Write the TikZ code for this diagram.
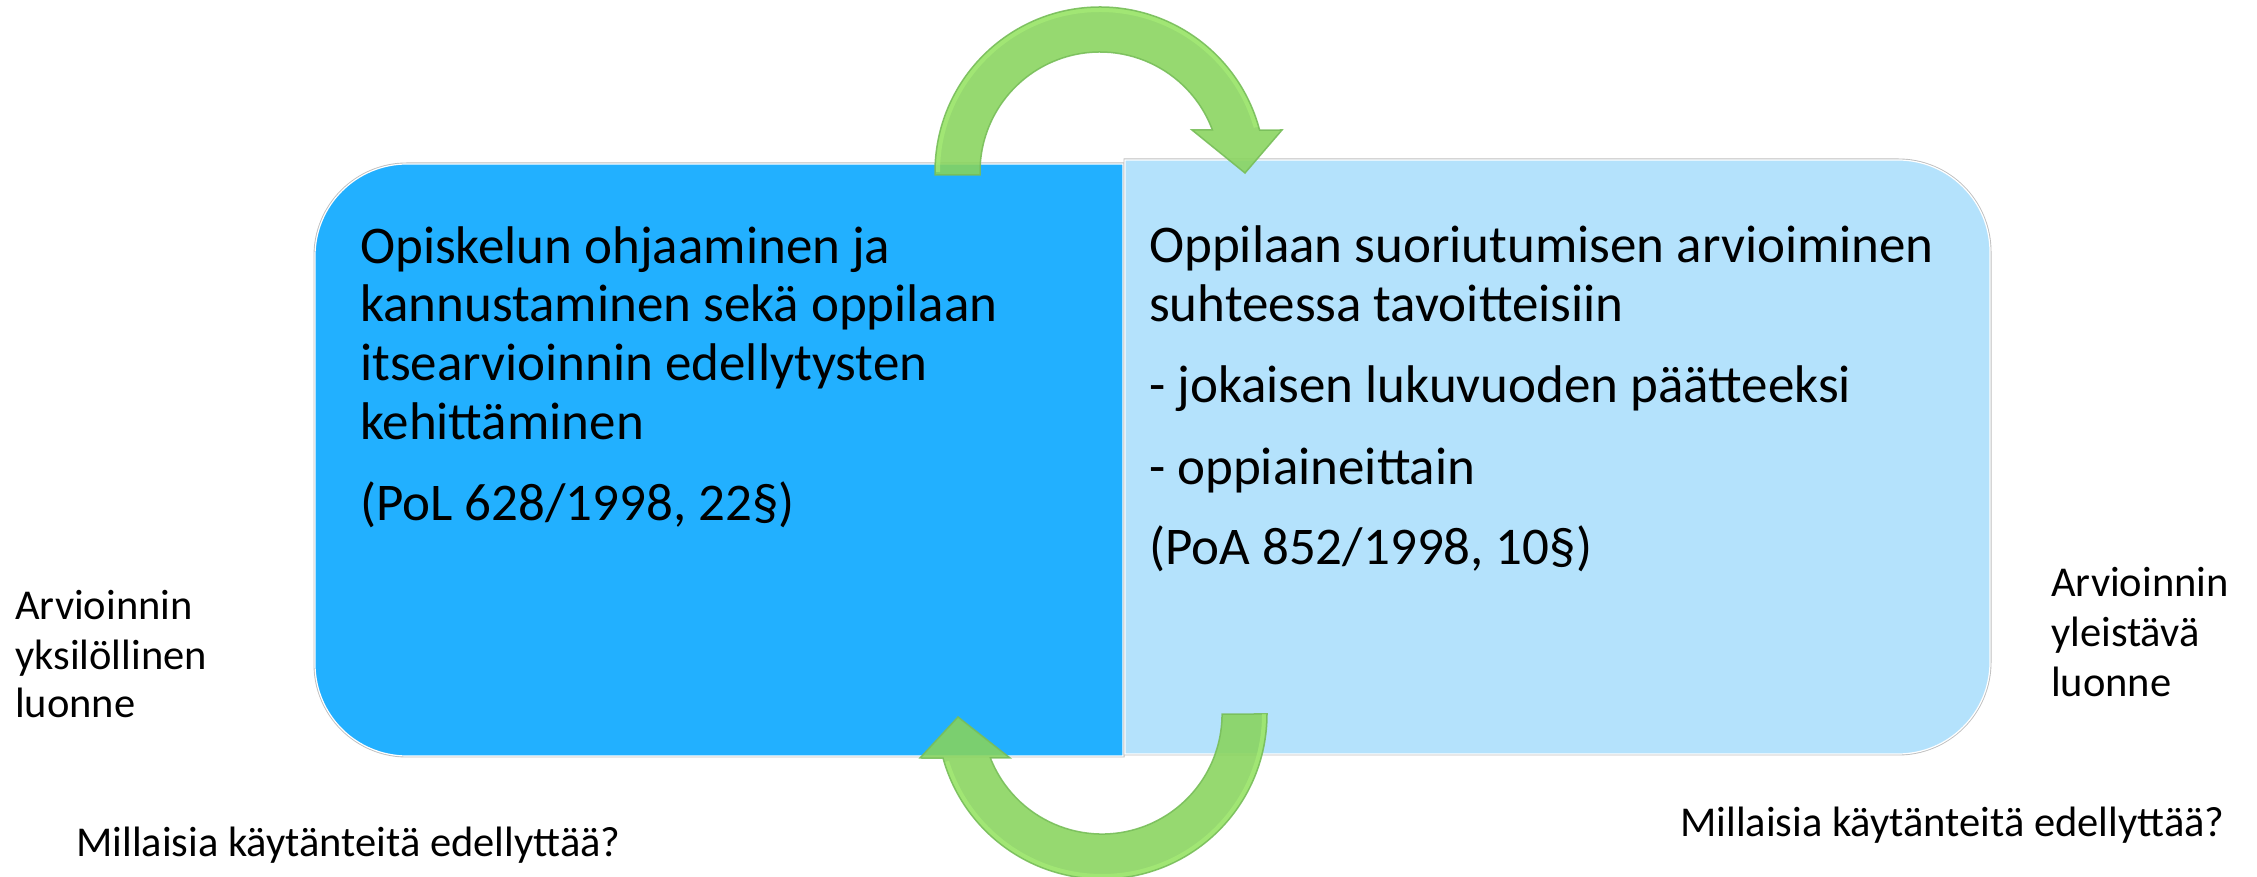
\documentclass[tikz,border=0pt]{standalone}
\usepackage{fontspec}
\setmainfont{Carlito}
\definecolor{leftblue}{RGB}{34,176,255}
\definecolor{rightblue}{RGB}{180,226,252}
\definecolor{arrowfill}{RGB}{136,212,92}
\definecolor{arrowedge}{RGB}{120,190,90}
\definecolor{arrowlight}{RGB}{168,240,120}
\definecolor{boxedge}{RGB}{190,190,190}
\tikzset{
  boxtxt/.style={anchor=base west, inner sep=0pt, font=\fontsize{53}{61}\selectfont},
  sidetxt/.style={anchor=base west, inner sep=0pt, font=\fontsize{42.5}{49}\selectfont},
  boxshape/.style={line width=3pt, draw=boxedge},
  boxinner/.style={line width=1.2pt, draw=white},
  cyclearrow/.style={fill=arrowfill, fill opacity=0.88, draw=arrowedge, draw opacity=0.9, line width=1.5pt, line join=miter},
  arrowglow/.style={draw=arrowlight, line width=4pt, opacity=0.6}
}
\begin{document}
\begin{tikzpicture}[x=1pt,y=1pt]
\useasboundingbox (0,0) rectangle (2257,877);
% left box
\path[boxshape] (1123,713) -- (407,713) arc[start angle=90,end angle=180,radius=92] -- (315,213) arc[start angle=180,end angle=270,radius=92] -- (1123,121) -- cycle;
\path[fill=leftblue, boxinner] (1123,713) -- (407,713) arc[start angle=90,end angle=180,radius=92] -- (315,213) arc[start angle=180,end angle=270,radius=92] -- (1123,121) -- cycle;
% right box
\path[boxshape] (1125,717) -- (1898,717) arc[start angle=90,end angle=0,radius=92] -- (1990,215) arc[start angle=0,end angle=-90,radius=92] -- (1125,123) -- cycle;
\path[fill=rightblue, boxinner] (1125,717) -- (1898,717) arc[start angle=90,end angle=0,radius=92] -- (1990,215) arc[start angle=0,end angle=-90,radius=92] -- (1125,123) -- cycle;

% texts in left box
\node[boxtxt] (l1) at (360,613) {Opiskelun ohjaaminen ja};
\node[boxtxt] (l2) at (360,555) {kannustaminen sekä oppilaan};
\node[boxtxt] (l3) at (360,496) {itsearvioinnin edellytysten};
\node[boxtxt] (l4) at (360,437) {kehittäminen};
\node[boxtxt] (l5) at (360,356) {(PoL 628/1998, 22§)};
% texts in right box
\node[boxtxt] (r1) at (1149,614) {Oppilaan suoriutumisen arvioiminen};
\node[boxtxt] (r2) at (1149,555) {suhteessa tavoitteisiin};
\node[boxtxt] (r3) at (1149,474) {- jokaisen lukuvuoden päätteeksi};
\node[boxtxt] (r4) at (1149,392) {- oppiaineittain};
\node[boxtxt] (r5) at (1149,312) {(PoA 852/1998, 10§)};

% side labels
\node[sidetxt] (a1) at (15,257) {Arvioinnin};
\node[sidetxt] (a2) at (15,207) {yksilöllinen};
\node[sidetxt] (a3) at (15,159) {luonne};
\node[sidetxt] (b1) at (2051,280) {Arvioinnin};
\node[sidetxt] (b2) at (2051,230) {yleistävä};
\node[sidetxt] (b3) at (2051,180) {luonne};
\node[sidetxt] (q1) at (76,20) {Millaisia käytänteitä edellyttää?};
\node[sidetxt] (q2) at (1680,40) {Millaisia käytänteitä edellyttää?};

% top circular arrow
\path[cyclearrow] (935,702) -- (935,705) arc[start angle=180,end angle=14.7,radius=165]
  -- (1282,747) -- (1245,704) -- (1192,747) -- (1212.4,747)
  arc[start angle=20.5,end angle=180,radius=120] -- (980,702) -- cycle;
\draw[arrowglow] (938,705) arc[start angle=180,end angle=16,radius=162];
% bottom circular arrow
\path[cyclearrow] (1267,163) arc[start angle=0,end angle=-164.5,radius=165]
  -- (920,119) -- (958,160) -- (1010,119) -- (990.4,119)
  arc[start angle=-158.5,end angle=0,radius=120] -- cycle;
\draw[arrowglow] (1264,163) arc[start angle=0,end angle=-163,radius=162];
\end{tikzpicture}
\end{document}
